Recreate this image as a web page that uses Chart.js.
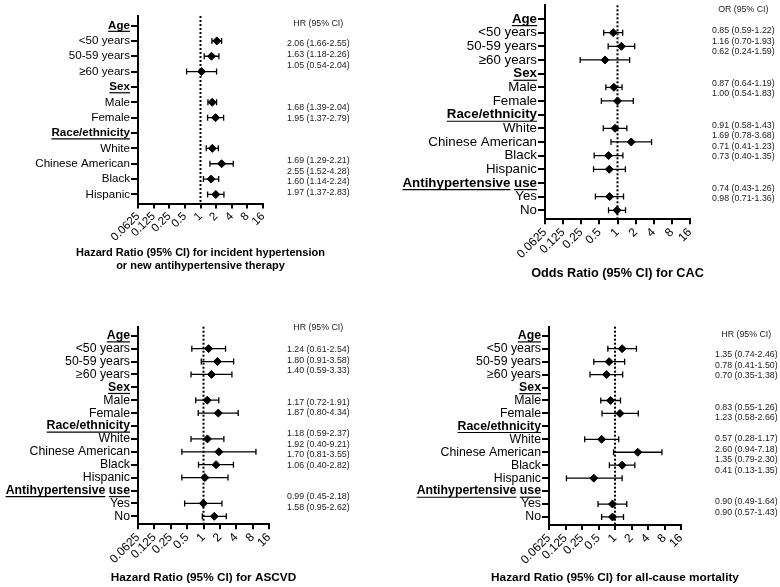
<!DOCTYPE html>
<html>
<head>
<meta charset="utf-8">
<script src="https://cdn.jsdelivr.net/npm/chart.js@4.4.0/dist/chart.umd.min.js"></script>
<style>
  body { margin: 0; background: #fff; }
  canvas { position: absolute; }
</style>
</head>
<body>
<canvas id="htn" width="390" height="290" style="left:0;top:0"></canvas>
<canvas id="cac" width="390" height="290" style="left:390px;top:0"></canvas>
<canvas id="ascvd" width="390" height="292" style="left:0;top:295px"></canvas>
<canvas id="mort" width="390" height="292" style="left:390px;top:295px"></canvas>
<script>
const FONT = "'Liberation Sans', Arial, Helvetica, sans-serif";

const groupsShort = ["Age", "<50 years", "50-59 years", "≥60 years", "Sex", "Male", "Female",
  "Race/ethnicity", "White", "Chinese American", "Black", "Hispanic"];
const groupsLong = groupsShort.concat(["Antihypertensive use", "Yes", "No"]);
const headers = ["Age", "Sex", "Race/ethnicity", "Antihypertensive use"];
const xTicks = [0.0625, 0.125, 0.25, 0.5, 1, 2, 4, 8, 16];

// incident hypertension, HR
const htnEst = [null, 2.06, 1.63, 1.05, null, 1.68, 1.95, null, 1.69, 2.55, 1.60, 1.97];
const htnLo  = [null, 1.66, 1.18, 0.54, null, 1.39, 1.37, null, 1.29, 1.52, 1.14, 1.37];
const htnHi  = [null, 2.55, 2.26, 2.04, null, 2.04, 2.79, null, 2.21, 4.28, 2.24, 2.83];

// CAC, OR
const cacEst = [null, 0.85, 1.16, 0.62, null, 0.87, 1.00, null, 0.91, 1.69, 0.71, 0.73, null, 0.74, 0.98];
const cacLo  = [null, 0.59, 0.70, 0.24, null, 0.64, 0.54, null, 0.58, 0.78, 0.41, 0.40, null, 0.43, 0.71];
const cacHi  = [null, 1.22, 1.93, 1.59, null, 1.19, 1.83, null, 1.43, 3.68, 1.23, 1.35, null, 1.26, 1.36];

// ASCVD, HR
const ascvdEst = [null, 1.24, 1.80, 1.40, null, 1.17, 1.87, null, 1.18, 1.92, 1.70, 1.06, null, 0.99, 1.58];
const ascvdLo  = [null, 0.61, 0.91, 0.59, null, 0.72, 0.80, null, 0.59, 0.40, 0.81, 0.40, null, 0.45, 0.95];
const ascvdHi  = [null, 2.54, 3.58, 3.33, null, 1.91, 4.34, null, 2.37, 9.21, 3.55, 2.82, null, 2.18, 2.62];

// all-cause mortality, HR
const mortEst = [null, 1.35, 0.78, 0.70, null, 0.83, 1.23, null, 0.57, 2.60, 1.35, 0.41, null, 0.90, 0.90];
const mortLo  = [null, 0.74, 0.41, 0.35, null, 0.55, 0.58, null, 0.28, 0.94, 0.79, 0.13, null, 0.49, 0.57];
const mortHi  = [null, 2.46, 1.50, 1.38, null, 1.26, 2.66, null, 1.17, 7.18, 2.30, 1.35, null, 1.64, 1.43];

function fmt(e, l, h) {
  return e.toFixed(2) + " (" + l.toFixed(2) + "-" + h.toFixed(2) + ")";
}

function makeForest(id, labels, est, lo, hi, title, colHead, L) {
  const canvas = document.getElementById(id);
  const lines = [], caps = [], points = [], texts = [];
  labels.forEach((lab, i) => {
    if (est[i] == null) return;
    lines.push({x: lo[i], y: i}, {x: hi[i], y: i}, {x: null, y: null});
    caps.push({x: lo[i], y: i}, {x: hi[i], y: i});
    points.push({x: est[i], y: i});
    texts.push(fmt(est[i], lo[i], hi[i]));
  });

  const extras = {
    id: "forestExtras",
    beforeDatasetsDraw(chart) {
      const {ctx, chartArea, scales: {x}} = chart;
      const px = x.getPixelForValue(1);
      ctx.save();
      ctx.strokeStyle = "#000";
      ctx.lineWidth = 2;
      ctx.setLineDash([2, 2]);
      ctx.beginPath();
      ctx.moveTo(px, chartArea.top);
      ctx.lineTo(px, chartArea.bottom);
      ctx.stroke();
      ctx.restore();
    },
    afterDraw(chart) {
      const {ctx, chartArea, scales: {y}} = chart;
      ctx.save();
      // underline the group headers, word by word
      ctx.font = "bold " + L.labelSize + "px " + FONT;
      ctx.strokeStyle = "#000";
      ctx.lineWidth = 1.2;
      const right = y.right - 7 - 1;
      labels.forEach((lab, i) => {
        if (!headers.includes(lab)) return;
        const py = y.getPixelForValue(i) + L.labelSize * 0.5;
        const x0 = right - ctx.measureText(lab).width;
        let before = "";
        lab.split(" ").forEach(w => {
          const sx = x0 + ctx.measureText(before).width;
          const ww = ctx.measureText(w).width;
          ctx.beginPath();
          ctx.moveTo(sx, py);
          ctx.lineTo(sx + ww, py);
          ctx.stroke();
          before += w + " ";
        });
      });
      // axis title (drawn here so it is not squeezed to the axis width)
      ctx.fillStyle = "#000";
      ctx.textAlign = "center";
      ctx.textBaseline = "middle";
      ctx.font = "bold " + L.titleSize + "px " + FONT;
      const cx = (chartArea.left + chartArea.right) / 2;
      [].concat(title).forEach((t, k) => {
        ctx.fillText(t, cx, L.titleY + k * L.titleSize * 1.15);
      });
      // estimate column
      ctx.font = L.textSize + "px " + FONT;
      ctx.fillStyle = "#1a1a1a";
      ctx.textAlign = "left";
      const colW = ctx.measureText(texts[0]).width;
      texts.forEach((t, k) => {
        ctx.fillText(t, L.textX, L.textY + L.slots[k] * L.lh);
      });
      ctx.textAlign = "center";
      ctx.fillText(colHead, L.textX + colW / 2, L.headY);
      ctx.restore();
    }
  };

  return new Chart(canvas, {
    type: "scatter",
    data: {
      datasets: [
        { data: lines, showLine: true, spanGaps: false, borderColor: "#000", borderWidth: 1.3, pointRadius: 0 },
        { data: caps, pointStyle: "line", rotation: 90, pointRadius: 3, borderColor: "#000", borderWidth: 1.3 },
        { data: points, pointStyle: "rectRot", pointRadius: 4, backgroundColor: "#000", borderColor: "#000", borderWidth: 1 }
      ]
    },
    options: {
      responsive: false,
      animation: false,
      events: [],
      layout: { padding: { top: L.top, left: 0, right: canvas.width - L.right, bottom: 0 } },
      plugins: { legend: { display: false }, tooltip: { enabled: false } },
      scales: {
        x: {
          type: "logarithmic",
          min: 0.0625,
          max: 16,
          bounds: "data",
          afterBuildTicks: s => { s.ticks = xTicks.map(v => ({value: v})); },
          afterFit: s => { s.height = canvas.height - L.bottom; s.paddingLeft = 0; s.paddingRight = 0; },
          border: { color: "#000", width: 2 },
          grid: { drawOnChartArea: false, color: "#000", lineWidth: 2, tickLength: 5 },
          ticks: {
            autoSkip: false, minRotation: 45, maxRotation: 45, padding: 1, color: "#000",
            font: { family: FONT, size: L.tickSize },
            callback: v => String(v)
          }
        },
        y: {
          type: "linear",
          reverse: true,
          bounds: "data",
          min: L.ymin,
          max: labels.length - 1 + L.ymaxPad,
          afterBuildTicks: s => { s.ticks = labels.map((_, i) => ({value: i})); },
          afterFit: s => { s.width = L.left; s.paddingTop = 0; s.paddingBottom = 0; },
          border: { color: "#000", width: 2 },
          grid: { drawOnChartArea: false, color: "#000", lineWidth: 2, tickLength: 7 },
          ticks: {
            autoSkip: false, padding: 1, color: "#000",
            font: ctx => ({ family: FONT, size: L.labelSize, weight: headers.includes(labels[ctx.index]) ? "bold" : "normal" }),
            callback: v => labels[v]
          }
        }
      }
    },
    plugins: [extras]
  });
}

makeForest("htn", groupsShort, htnEst, htnLo, htnHi,
  ["Hazard Ratio (95% CI) for incident hypertension", "or new antihypertensive therapy"], "HR (95% CI)",
  { left: 138, right: 263, top: 16, bottom: 203.5, ymin: -0.62, ymaxPad: 0.59,
    labelSize: 11.6, tickSize: 11.5, titleSize: 11, titleY: 253,
    textSize: 8.8, textX: 287, headY: 24, textY: 44, lh: 10.6, slots: [0, 1, 2, 6, 7, 11, 12, 13, 14] });

makeForest("cac", groupsLong, cacEst, cacLo, cacHi,
  "Odds Ratio (95% CI) for CAC", "OR (95% CI)",
  { left: 155, right: 300, top: 0, bottom: 219.3, ymin: -1.0, ymaxPad: 0.66,
    labelSize: 13.3, tickSize: 12, titleSize: 12.7, titleY: 273,
    textSize: 8.8, textX: 322, headY: 10, textY: 31, lh: 10.5, slots: [0, 1, 2, 5, 6, 9, 10, 11, 12, 15, 16] });

makeForest("ascvd", groupsLong, ascvdEst, ascvdLo, ascvdHi,
  "Hazard Ratio (95% CI) for ASCVD", "HR (95% CI)",
  { left: 138, right: 269, top: 31.7, bottom: 229.3, ymin: -0.7, ymaxPad: 0.62,
    labelSize: 12.3, tickSize: 12, titleSize: 11.8, titleY: 283,
    textSize: 8.8, textX: 287, headY: 33, textY: 55, lh: 10.5, slots: [0, 1, 2, 5, 6, 8, 9, 10, 11, 14, 15] });

makeForest("mort", groupsLong, mortEst, mortLo, mortHi,
  "Hazard Ratio (95% CI) for all-cause mortality", "HR (95% CI)",
  { left: 159, right: 291, top: 31.7, bottom: 230, ymin: -0.7, ymaxPad: 0.62,
    labelSize: 12.3, tickSize: 12, titleSize: 11.8, titleY: 283,
    textSize: 8.8, textX: 325, headY: 40, textY: 60, lh: 10.5, slots: [0, 1, 2, 5, 6, 8, 9, 10, 11, 14, 15] });
</script>
</body>
</html>
